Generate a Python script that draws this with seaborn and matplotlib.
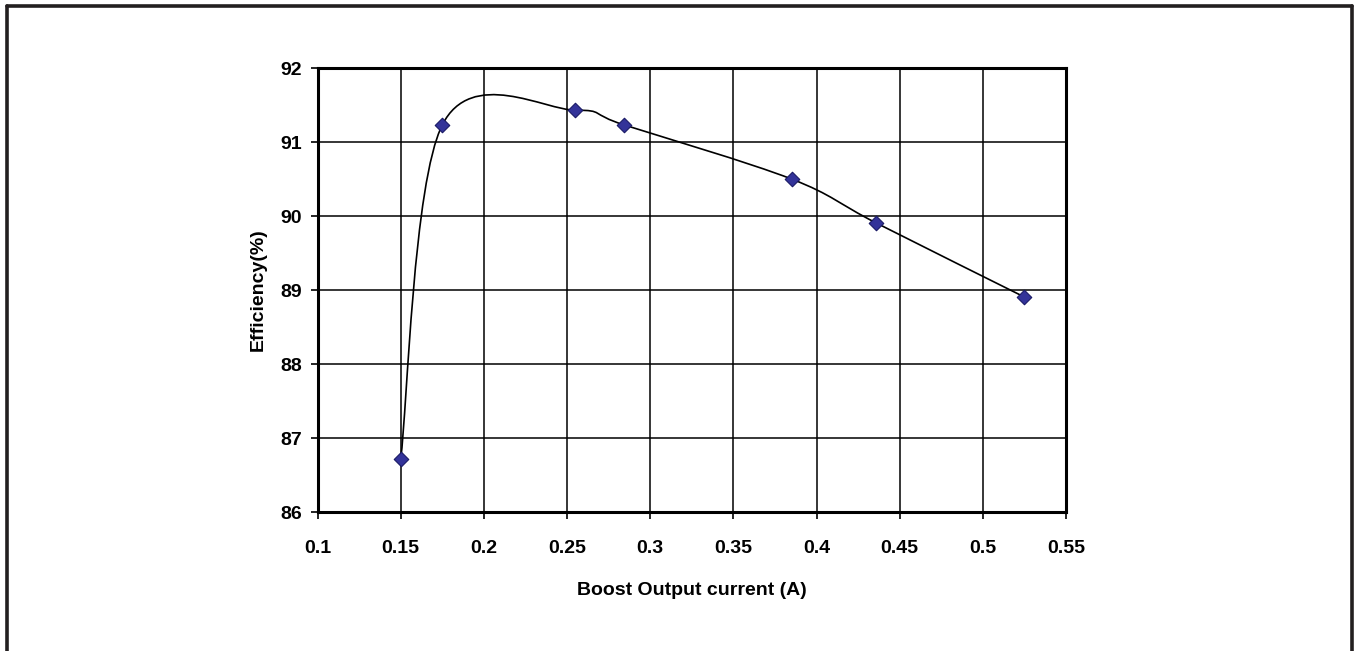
import matplotlib
matplotlib.use("Agg")
import matplotlib.pyplot as plt
import seaborn as sns
import pandas as pd
from matplotlib.path import Path
from matplotlib.patches import PathPatch
from matplotlib.lines import Line2D

# data
current = [0.150, 0.175, 0.255, 0.2845, 0.385, 0.436, 0.525]
efficiency = [86.71, 91.23, 91.43, 91.23, 90.50, 89.905, 88.905]
x_ticks = [0.1, 0.15, 0.2, 0.25, 0.3, 0.35, 0.4, 0.45, 0.5, 0.55]
y_ticks = [86, 87, 88, 89, 90, 91, 92]

df = pd.DataFrame({'current': current, 'efficiency': efficiency})

sns.set_style('white')
plt.rcParams['font.family'] = ['Liberation Sans', 'DejaVu Sans']
plt.rcParams['text.color'] = 'black'
plt.rcParams['axes.labelcolor'] = 'black'
plt.rcParams['xtick.color'] = 'black'
plt.rcParams['ytick.color'] = 'black'

fig = plt.figure(figsize=(13.54, 6.51), dpi=100)
ax = fig.add_axes([0.2345, 0.2135, 0.5528, 0.682])


def excel_smooth_path(xs, ys):
    # Excel style smoothed line: cubic bezier segments through the points
    pts = list(zip(xs, ys))
    n = len(pts)
    verts = [pts[0]]
    codes = [Path.MOVETO]
    for i in range(n - 1):
        p0 = pts[i - 1] if i > 0 else pts[i]
        p1 = pts[i]
        p2 = pts[i + 1]
        p3 = pts[i + 2] if i + 2 < n else pts[i + 1]
        c1 = (p1[0] + (p2[0] - p0[0]) / 6, p1[1] + (p2[1] - p0[1]) / 6)
        c2 = (p2[0] - (p3[0] - p1[0]) / 6, p2[1] - (p3[1] - p1[1]) / 6)
        verts += [c1, c2, p2]
        codes += [Path.CURVE4] * 3
    return Path(verts, codes)


ax.add_patch(PathPatch(excel_smooth_path(df.current, df.efficiency),
                       facecolor='none', edgecolor='black', lw=1.2, zorder=3))

sns.scatterplot(data=df, x='current', y='efficiency', ax=ax, marker='D',
                s=55, color='#333399', edgecolor='#1a1a66', linewidth=0.8,
                zorder=4, legend=False)

ax.set_xlim(0.1, 0.55)
ax.set_ylim(86, 92)
ax.set_xticks(x_ticks)
ax.set_xticklabels([f'{v:g}' for v in x_ticks])
ax.set_yticks(y_ticks)
ax.grid(True, color='black', lw=1.1)
ax.set_axisbelow(True)

for s in ax.spines.values():
    s.set_linewidth(2.2)
    s.set_color('black')

ax.tick_params(axis='both', direction='out', length=5, width=1.2,
               labelsize=14, pad=6, bottom=True, left=True)
ax.tick_params(axis='x', pad=15)
for lab in ax.get_xticklabels() + ax.get_yticklabels():
    lab.set_fontweight('bold')

ax.set_xlabel('Boost Output current (A)', fontsize=14, fontweight='bold', labelpad=18)
ax.set_ylabel('Efficiency(%)', fontsize=14, fontweight='bold', labelpad=10)

# outer frame (left, top, right)
fc = '#231f20'
fig.add_artist(Line2D([0.0055, 0.0055], [0.0, 0.9905], transform=fig.transFigure, color=fc, lw=2.6))
fig.add_artist(Line2D([0.0055, 0.9985], [0.9905, 0.9905], transform=fig.transFigure, color=fc, lw=2.6))
fig.add_artist(Line2D([0.9985, 0.9985], [0.0, 0.9905], transform=fig.transFigure, color=fc, lw=2.6))

fig.savefig('out.png', dpi=100)
